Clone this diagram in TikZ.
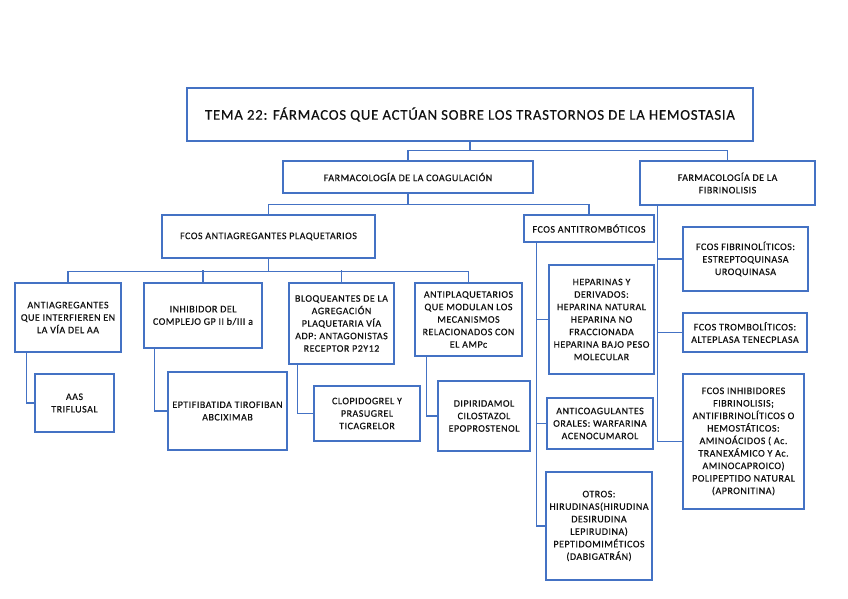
\documentclass[tikz,border=0pt]{standalone}
\usepackage{fontspec}
\setmainfont{Carlito}[LetterSpace=5, FakeBold=0.5]
\usetikzlibrary{calc}
\definecolor{boxblue}{HTML}{4472C4}
\definecolor{txt}{HTML}{111111}
\tikzset{
  box/.style={draw=boxblue, line width=1.3pt, fill=white, align=center, inner sep=0pt,
    text=txt, font=\fontsize{10}{12.5}\selectfont},
  conn/.style={draw=boxblue, line width=1.3pt}
}
\newcommand{\bx}[6]{%
  \node[box, minimum width={(#4)-(#2)}, minimum height={(#5)-(#3)}]
    (#1) at ({(#2+#4)/2},{(#3+#5)/2}) {#6};}
\begin{document}
\begin{tikzpicture}[x=1pt,y=-1pt]
\useasboundingbox (0,0) rectangle (848,599);
\fill[white] (0,0) rectangle (848,599);
\node[box, font=\fontsize{14.8}{17}\selectfont, minimum width=566, minimum height=53]
  (title) at (470,114.5) {TEMA 22: FÁRMACOS QUE ACTÚAN SOBRE LOS TRASTORNOS DE LA HEMOSTASIA};
\bx{coag}{283}{161}{533}{193}{FARMACOLOGÍA DE LA COAGULACIÓN}
\bx{fibr}{640}{161}{815}{205}{FARMACOLOGÍA DE LA\\FIBRINOLISIS}
\bx{antiag}{162}{215}{375}{258}{FCOS ANTIAGREGANTES PLAQUETARIOS}
\bx{antitrom}{524}{215}{654}{242}{FCOS ANTITROMBÓTICOS}
\bx{b1}{15}{283}{121}{352}{ANTIAGREGANTES\\QUE INTERFIEREN EN\\LA VÍA DEL AA}
\bx{b2}{144}{283}{262}{348}{INHIBIDOR DEL\\COMPLEJO GP II b/III a}
\bx{b3}{289}{283}{394}{364}{BLOQUEANTES DE LA\\AGREGACIÓN\\PLAQUETARIA VÍA\\ADP: ANTAGONISTAS\\RECEPTOR P2Y12}
\bx{b4}{415}{283}{522}{356}{ANTIPLAQUETARIOS\\QUE MODULAN LOS\\MECANISMOS\\RELACIONADOS CON\\EL AMPc}
\bx{c1}{35}{374}{114}{432}{AAS\\TRIFLUSAL}
\bx{c2}{168}{372}{287}{450}{EPTIFIBATIDA TIROFIBAN\\ABCIXIMAB}
\bx{c3}{314}{386}{420}{441}{CLOPIDOGREL Y\\PRASUGREL\\TICAGRELOR}
\bx{c4}{438}{381}{530}{451}{DIPIRIDAMOL\\CILOSTAZOL\\EPOPROSTENOL}
\bx{hep}{549}{265}{654}{374}{HEPARINAS Y\\DERIVADOS:\\HEPARINA NATURAL\\HEPARINA NO\\FRACCIONADA\\HEPARINA BAJO PESO\\MOLECULAR}
\bx{antico}{547}{398}{653}{449}{ANTICOAGULANTES\\ORALES: WARFARINA\\ACENOCUMAROL}
\bx{otros}{546}{472}{652}{580}{OTROS:\\HIRUDINAS(HIRUDINA\\DESIRUDINA\\LEPIRUDINA)\\PEPTIDOMIMÉTICOS\\(DABIGATRÁN)}
\bx{fl}{683}{227}{808}{291}{FCOS FIBRINOLÍTICOS:\\ESTREPTOQUINASA\\UROQUINASA}
\bx{tl}{683}{313}{807}{352}{FCOS TROMBOLÍTICOS:\\ALTEPLASA TENECPLASA}
\bx{inh}{683}{374}{804}{509}{FCOS INHIBIDORES\\FIBRINOLISIS;\\ANTIFIBRINOLÍTICOS O\\HEMOSTÁTICOS:\\AMINOÁCIDOS ( Ac.\\TRANEXÁMICO Y Ac.\\AMINOCAPROICO)\\POLIPEPTIDO NATURAL\\(APRONITINA)}
% connectors
\draw[conn] (title.south) -- ++(0,9);
\draw[conn] (coag.north) |- ($(title.south)+(0,9)$) -| (fibr.north);
\draw[conn] (coag.south) -- ++(0,11);
\draw[conn] (antiag.north) |- ($(coag.south)+(0,11)$) -| (antitrom.north);
\draw[conn] (antiag.south) -- ++(0,13);
\draw[conn] (b1.north) |- ($(antiag.south)+(0,13)$) -| (b4.north);
\draw[conn] (b2.north) -- ++(0,-12);
\draw[conn] (b3.north) -- ++(0,-12);
\draw[conn] ($(b1.south west)+(12,0)$) |- (c1.west);
\draw[conn] ($(b2.south west)+(11,0)$) |- (c2.west);
\draw[conn] ($(b3.south west)+(9,0)$) |- (c3.west);
\draw[conn] ($(b4.south west)+(12,0)$) |- (c4.west);
\coordinate (tA) at ($(antitrom.south west)+(13,0)$);
\draw[conn] (tA) |- (otros.west);
\draw[conn] (hep.west) -- (hep.west -| tA);
\draw[conn] (antico.west) -- (antico.west -| tA);
\coordinate (tF) at ($(fibr.south west)+(18,0)$);
\draw[conn] (tF) |- (inh.west);
\draw[conn] (fl.west) -- (fl.west -| tF);
\draw[conn] (tl.west) -- (tl.west -| tF);
\end{tikzpicture}
\end{document}
